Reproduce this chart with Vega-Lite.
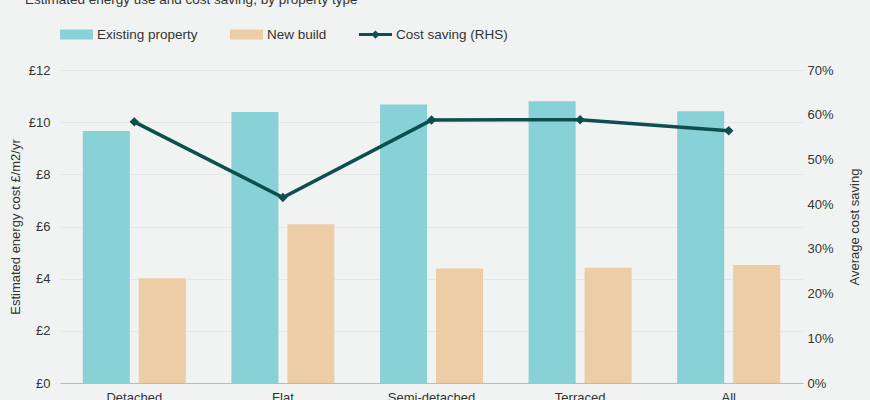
{
  "$schema": "https://vega.github.io/schema/vega-lite/v6.json",
  "autosize": {"type": "none"},
  "width": 743,
  "height": 313,
  "padding": {"left": 60, "top": 70, "right": 67, "bottom": 17},
  "background": "#F0F3F2",
  "title": {
    "text": "Estimated energy use and cost saving, by property type",
    "anchor": "start",
    "frame": "group",
    "dx": -35,
    "fontSize": 13.5,
    "fontWeight": "normal",
    "font": "Liberation Sans",
    "color": "#333333",
    "offset": 12
  },
  "datasets": {
    "bars": [
      {"type": "Detached", "series": "Existing property", "cost": 9.66},
      {"type": "Detached", "series": "New build", "cost": 4.02},
      {"type": "Flat", "series": "Existing property", "cost": 10.39},
      {"type": "Flat", "series": "New build", "cost": 6.09},
      {"type": "Semi-detached", "series": "Existing property", "cost": 10.68},
      {"type": "Semi-detached", "series": "New build", "cost": 4.39},
      {"type": "Terraced", "series": "Existing property", "cost": 10.8},
      {"type": "Terraced", "series": "New build", "cost": 4.42},
      {"type": "All", "series": "Existing property", "cost": 10.42},
      {"type": "All", "series": "New build", "cost": 4.52}
    ],
    "saving": [
      {"type": "Detached", "series": "Cost saving (RHS)", "saving": 0.584},
      {"type": "Flat", "series": "Cost saving (RHS)", "saving": 0.415},
      {"type": "Semi-detached", "series": "Cost saving (RHS)", "saving": 0.588},
      {"type": "Terraced", "series": "Cost saving (RHS)", "saving": 0.589},
      {"type": "All", "series": "Cost saving (RHS)", "saving": 0.564}
    ]
  },
  "layer": [
    {
      "data": {"name": "bars"},
      "mark": {"type": "bar"},
      "encoding": {
        "x": {
          "field": "type",
          "type": "nominal",
          "sort": ["Detached", "Flat", "Semi-detached", "Terraced", "All"],
          "scale": {"paddingInner": 0, "paddingOuter": 0},
          "axis": {
            "title": null,
            "labelAngle": 0,
            "ticks": false,
            "labelPadding": 8,
            "labelFontSize": 13,
            "labelFont": "Liberation Sans",
            "labelColor": "#333333",
            "domainColor": "#BBBBBB",
            "grid": false
          }
        },
        "xOffset": {
          "field": "series",
          "type": "nominal",
          "sort": ["Existing property", "New build"],
          "scale": {"paddingInner": 0.16, "paddingOuter": 0.407}
        },
        "y": {
          "field": "cost",
          "type": "quantitative",
          "scale": {"domain": [0, 12], "nice": false},
          "axis": {
            "title": "Estimated energy cost £/m2/yr",
            "values": [0, 2, 4, 6, 8, 10, 12],
            "labelExpr": "'£' + datum.value",
            "ticks": false,
            "domain": false,
            "labelPadding": 10,
            "labelFontSize": 13,
            "labelFont": "Liberation Sans",
            "labelColor": "#333333",
            "titleFontSize": 13,
            "titleFont": "Liberation Sans",
            "titleFontWeight": "normal",
            "titleColor": "#333333",
            "titlePadding": 6,
            "gridColor": "#E3E7E7"
          }
        },
        "color": {
          "field": "series",
          "type": "nominal",
          "scale": {
            "domain": ["Existing property", "New build", "Cost saving (RHS)"],
            "range": ["#88D1D6", "#EDCDA6", "#0D4F4F"]
          },
          "legend": {
            "title": null,
            "orient": "top",
            "direction": "horizontal",
            "offset": 29,
            "labelFontSize": 13.5,
            "labelFont": "Liberation Sans",
            "labelColor": "#333333",
            "columnPadding": 32,
            "labelOffset": 4,
            "symbolSize": 1089,
            "encode": {
              "symbols": {
                "update": {
                  "shape": {"signal": "datum.value === 'Cost saving (RHS)' ? 'M-1,-0.095H1V0.095H-1Z M-0.25,0L0,-0.25L0.25,0L0,0.25Z' : 'M-1,-0.3H1V0.3H-1Z'"},
                  "strokeWidth": {"value": 0},
                  "opacity": {"value": 1}
                }
              }
            }
          }
        }
      }
    },
    {
      "data": {"name": "saving"},
      "mark": {
        "type": "line",
        "strokeWidth": 3.5,
        "point": {"shape": "diamond", "size": 90, "filled": true, "color": "#0D4F4F", "opacity": 1}
      },
      "encoding": {
        "x": {
          "field": "type",
          "type": "nominal",
          "sort": ["Detached", "Flat", "Semi-detached", "Terraced", "All"]
        },
        "y": {
          "field": "saving",
          "type": "quantitative",
          "scale": {"domain": [0, 0.7], "nice": false},
          "axis": {
            "title": "Average cost saving",
            "orient": "right",
            "titleAngle": 270,
            "values": [0, 0.1, 0.2, 0.3, 0.4, 0.5, 0.6, 0.7],
            "format": ".0%",
            "grid": false,
            "ticks": false,
            "domain": false,
            "labelPadding": 4,
            "labelFontSize": 13,
            "labelFont": "Liberation Sans",
            "labelColor": "#333333",
            "titleFontSize": 13,
            "titleFont": "Liberation Sans",
            "titleFontWeight": "normal",
            "titleColor": "#333333",
            "titlePadding": 28
          }
        },
        "color": {"field": "series", "type": "nominal"}
      }
    }
  ],
  "resolve": {"scale": {"y": "independent"}},
  "config": {
    "view": {"stroke": null},
    "font": "Liberation Sans"
  }
}
